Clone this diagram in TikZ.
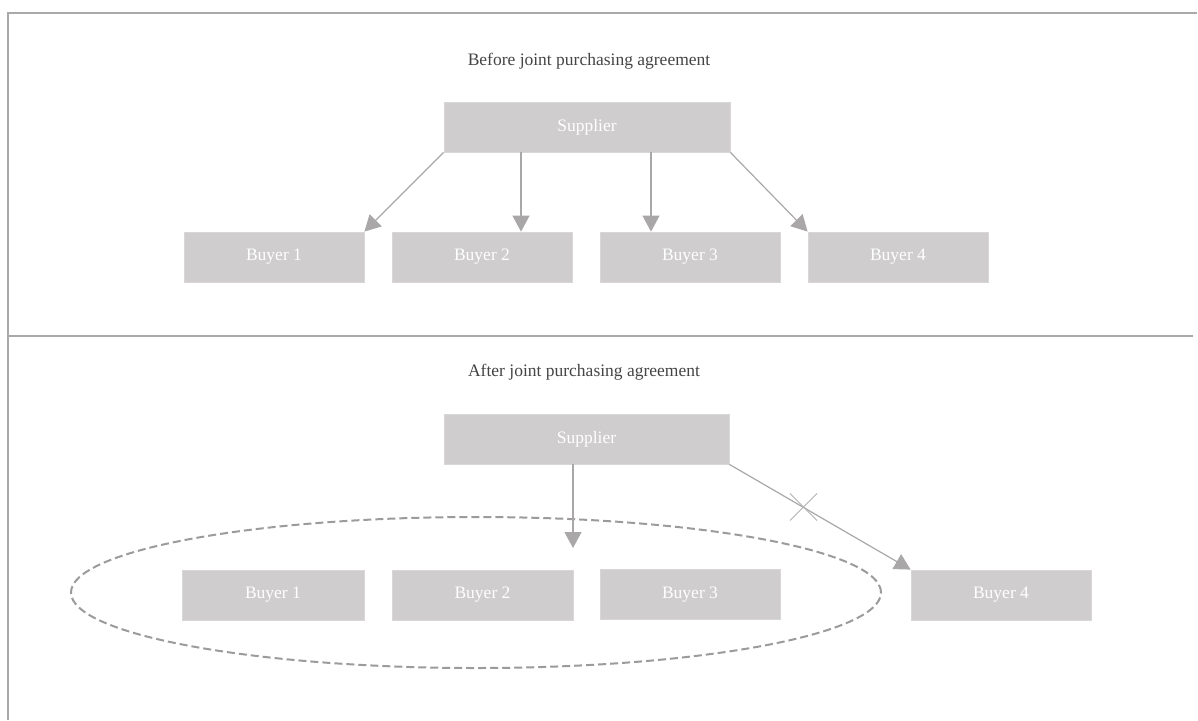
\documentclass[tikz,border=0pt]{standalone}
\usepackage{fontspec}
\setmainfont{Liberation Serif}
\usetikzlibrary{arrows.meta,shapes.geometric}
\definecolor{boxfill}{HTML}{CFCDCE}
\definecolor{boxline}{HTML}{D8D6D7}
\definecolor{arrowc}{HTML}{A9A7A8}
\definecolor{framec}{HTML}{AAA8A9}
\definecolor{titlec}{HTML}{444444}
\definecolor{dashc}{HTML}{9C9A9B}
\definecolor{crossc}{HTML}{B3B1B2}
\tikzset{
  x=1pt, y=-1pt,
  box/.style={draw=boxline, fill=boxfill, line width=0.8pt, inner sep=0pt,
    minimum height=50pt, text=white, font=\fontsize{17.5}{21}\selectfont},
  buyerbox/.style={box, minimum width=180pt},
  supbox/.style={box, minimum width=286pt},
  title/.style={text=titlec, inner sep=0pt, font=\fontsize{17.5}{21}\selectfont},
  conn/.style={draw=arrowc, line width=1.2pt, -{Triangle[width=17pt,length=16pt]}},
  frameline/.style={draw=framec, line width=2pt},
  groupell/.style={draw=dashc, ellipse, line width=2pt, dash pattern=on 8pt off 4pt, inner sep=0pt},
  crossline/.style={draw=crossc, line width=1pt}
}
\begin{document}
\begin{tikzpicture}
\useasboundingbox (0,0) rectangle (1198,720);
% frame
\coordinate (ftl) at (8,13);
\coordinate (ftr) at (1197,13);
\coordinate (fbl) at (8,720);
\coordinate (fml) at (8,336);
\coordinate (fmr) at (1193,336);
\draw[frameline] (fbl) -- (ftl) -- (ftr);
\draw[frameline, line width=1.5pt] (fml) -- (fmr);

% before
\node[title] (t1) at (589,61) {Before joint purchasing agreement};
\node[supbox] (s1) at (587,127) {Supplier};
\node[buyerbox] (b11) at (274,257) {Buyer 1};
\node[buyerbox] (b12) at (482,257) {Buyer 2};
\node[buyerbox] (b13) at (690,257) {Buyer 3};
\node[buyerbox] (b14) at (898,257) {Buyer 4};
\draw[conn] (s1.south west) -- (b11.north east);
\draw[conn] ([xshift=-66pt]s1.south) -- ([xshift=39pt]b12.north);
\draw[conn] ([xshift=64pt]s1.south) -- ([xshift=-39pt]b13.north);
\draw[conn] (s1.south east) -- (b14.north west);

% after
\node[title] (t2) at (584,372) {After joint purchasing agreement};
\node[groupell, minimum width=810pt, minimum height=151pt] (e) at (476,592.5) {};
\node[supbox, minimum width=285pt] (s2) at (586.5,439) {Supplier};
\node[buyerbox, minimum width=182pt] (b21) at (273,595) {Buyer 1};
\node[buyerbox, minimum width=181pt] (b22) at (482.5,595) {Buyer 2};
\node[buyerbox] (b23) at (690,594.5) {Buyer 3};
\node[buyerbox] (b24) at (1001,595) {Buyer 4};
\coordinate (tip) at (573,548);
\draw[conn] ([xshift=-13.5pt]s2.south) -- (tip);
\draw[conn] (s2.south east) -- (b24.north west);
% cross
\coordinate (c1) at (790,493.5);
\coordinate (c2) at (817,520.5);
\coordinate (c3) at (817,493.5);
\coordinate (c4) at (790,520.5);
\draw[crossline] (c1) -- (c2);
\draw[crossline] (c3) -- (c4);
\end{tikzpicture}
\end{document}
